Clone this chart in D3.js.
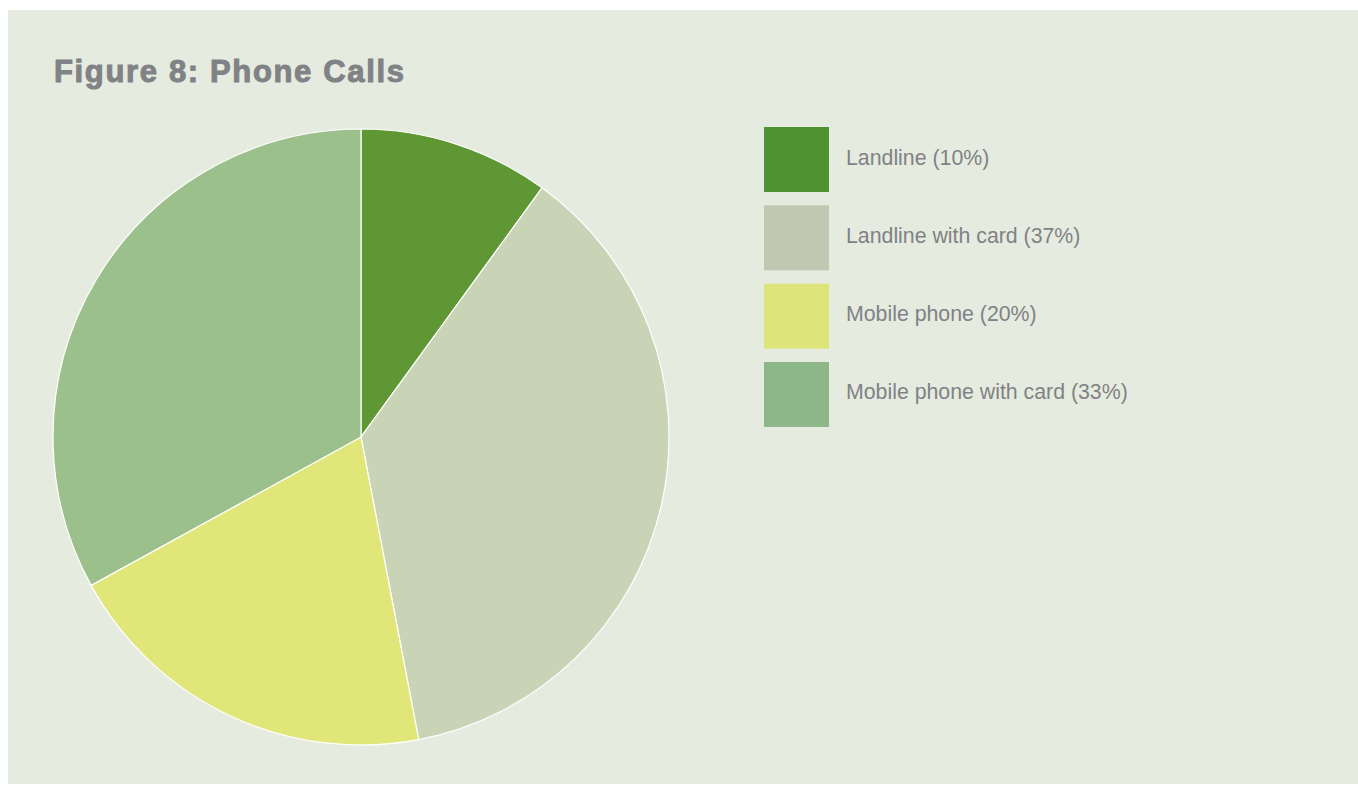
<!DOCTYPE html>
<html>
<head>
<meta charset="utf-8">
<script src="https://d3js.org/d3.v7.min.js"></script>
<style>
body { margin: 0; background: #ffffff; }
svg { display: block; }
.title {
  font-family: "Liberation Sans", Arial, sans-serif;
  font-weight: bold;
  font-size: 31px;
  fill: #808285;
  stroke: #808285;
  stroke-width: 1px;
  letter-spacing: 1.65px;
}
.legend text {
  font-family: "Liberation Sans", Arial, sans-serif;
  font-size: 21.3px;
  fill: #808285;
}
</style>
</head>
<body>
<svg width="1358" height="785"></svg>
<script>
// chart data
var categories = ["Landline", "Landline with card", "Mobile phone", "Mobile phone with card"];
var shares = [10, 37, 20, 33];
var pieColours = ["#5e9733", "#c9d3b6", "#e0e678", "#9bc08b"];
var legendColours = ["#4f9232", "#c1c8b2", "#dce47a", "#8db789"];

var svg = d3.select("svg");
var width = 1358, height = 785;

// panel background
svg.append("rect")
  .attr("x", 8).attr("y", 10)
  .attr("width", width - 8).attr("height", height - 10 - 1)
  .attr("fill", "#e6ebe0");

svg.append("text")
  .attr("class", "title")
  .attr("x", 54)
  .attr("y", 82)
  .text("Figure 8: Phone Calls");

// pie
var radius = 308;
var pie = d3.pie().sort(null).value(function(d){ return d; });
var arc = d3.arc().innerRadius(0).outerRadius(radius);
var pieColour = d3.scaleOrdinal().domain(categories).range(pieColours);
var legendColour = d3.scaleOrdinal().domain(categories).range(legendColours);

var g = svg.append("g").attr("transform", "translate(361,437)");
g.selectAll("path")
  .data(pie(shares))
  .enter().append("path")
  .attr("d", arc)
  .attr("fill", function(d, i){ return pieColour(categories[i]); })
  .attr("stroke", "#ffffff")
  .attr("stroke-width", 1.2);

// legend
var legendY = d3.scaleBand().domain(categories).range([127, 427]).paddingInner(0.17).paddingOuter(0);
var legend = svg.append("g").attr("class", "legend");
var item = legend.selectAll("g")
  .data(categories)
  .enter().append("g")
  .attr("transform", function(d){ return "translate(764," + legendY(d) + ")"; });

item.append("rect")
  .attr("width", 65)
  .attr("height", 65)
  .attr("fill", function(d){ return legendColour(d); });

item.append("text")
  .attr("x", 82)
  .attr("y", 37.5)
  .text(function(d, i){ return d + " (" + shares[i] + "%)"; });
</script>
</body>
</html>
